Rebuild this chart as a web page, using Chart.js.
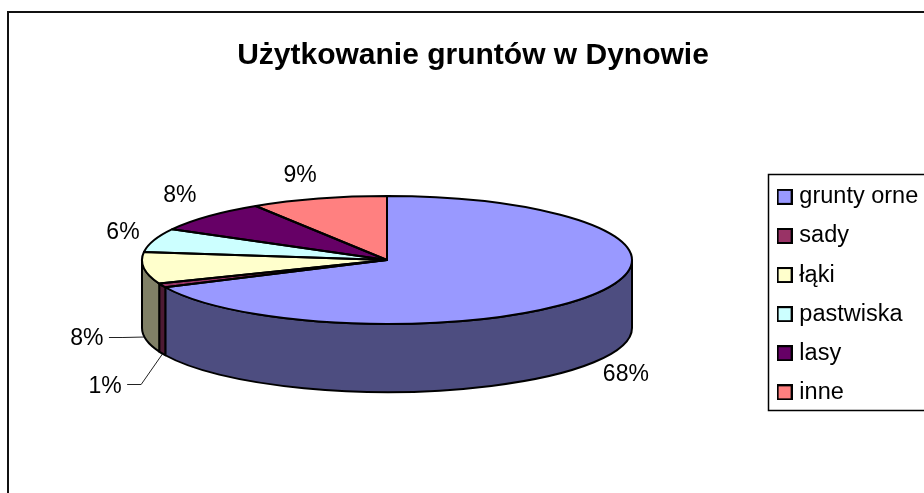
<!DOCTYPE html>
<html lang="pl">
<head>
<meta charset="utf-8">
<title>Użytkowanie gruntów w Dynowie</title>
<style>html,body{margin:0;padding:0;background:#fff}canvas{display:block}</style>
<script src="https://cdn.jsdelivr.net/npm/chart.js@4"></script>
</head>
<body>
<canvas id="c" width="924" height="493"></canvas>
<script>
const chartTitle = 'Użytkowanie gruntów w Dynowie';
const categories = ['grunty orne', 'sady', 'łąki', 'pastwiska', 'lasy', 'inne'];
const shares = [68, 1, 8, 6, 8, 9];
const topColors = ['#9999FF', '#993366', '#FFFFCC', '#CCFFFF', '#660066', '#FF8080'];
const wallColors = ['#4D4D80', '#4D1A33', '#808066', '#668080', '#330033', '#804040'];

const FONT = '"Liberation Sans", Arial, sans-serif';
const PIE = {cx: 387, cy: 260, rx: 245, ry: 64, depth: 68};
const LABEL_OFFSET = [[32, 80], [-57, 101], [-57, 71], [-31, -8], [-28.5, -20.5], [-18.6, -22.6]];
const HAS_LEADER = [false, true, true, false, false, false];

function ellipsePath(ctx, yOff, a0, a1, ccw) {
  ctx.ellipse(PIE.cx, PIE.cy + yOff, PIE.rx, PIE.ry, 0, a0, a1, !!ccw);
}
function swatch(color) {
  const s = document.createElement('canvas');
  s.width = 16; s.height = 16;
  const g = s.getContext('2d');
  g.fillStyle = color; g.fillRect(1, 1, 14, 14);
  g.strokeStyle = '#000'; g.lineWidth = 2; g.strokeRect(1, 1, 14, 14);
  return s;
}
const pie3d = {
  id: 'pie3d',
  afterLayout(chart) {
    const t = chart.titleBlock;
    t.left = 0; t.right = 946; t.top = 38; t.bottom = 74;
    const l = chart.legend;
    const w = l.width, h = l.height;
    l.left = 766; l.right = 766 + w; l.top = 169.5; l.bottom = 169.5 + h;
  },
  beforeDraw(chart) {
    const ctx = chart.ctx;
    ctx.save();
    ctx.fillStyle = '#fff';
    ctx.fillRect(0, 0, chart.width, chart.height);
    ctx.strokeStyle = '#111'; ctx.lineWidth = 2;
    ctx.strokeRect(8, 12, 1000, 600);
    ctx.lineWidth = 1.5;
    ctx.strokeStyle = '#000';
    ctx.strokeRect(768.5, 174.5, 400, 236);
    ctx.restore();
  },
  beforeDatasetsDraw(chart) {
    const ctx = chart.ctx;
    const arcs = chart.getDatasetMeta(0).data;
    ctx.save();
    ctx.lineWidth = 2; ctx.strokeStyle = '#000'; ctx.lineJoin = 'round';
    arcs.forEach((arc, i) => {
      const a0 = Math.max(arc.startAngle, 0), a1 = Math.min(arc.endAngle, Math.PI);
      if (a1 <= a0) return;
      ctx.beginPath();
      ellipsePath(ctx, 0, a0, a1);
      ellipsePath(ctx, PIE.depth, a1, a0, true);
      ctx.closePath();
      ctx.fillStyle = wallColors[i];
      ctx.fill(); ctx.stroke();
    });
    ctx.restore();
  },
  beforeDatasetDraw(chart) {
    const ctx = chart.ctx;
    const arc = chart.getDatasetMeta(0).data[0];
    ctx.save();
    ctx.translate(PIE.cx, PIE.cy);
    ctx.scale(PIE.rx / arc.outerRadius, PIE.ry / arc.outerRadius);
    ctx.translate(-arc.x, -arc.y);
  },
  afterDatasetDraw(chart) { chart.ctx.restore(); },
  afterDatasetsDraw(chart) {
    const ctx = chart.ctx;
    const arcs = chart.getDatasetMeta(0).data;
    ctx.save();
    ctx.lineWidth = 2; ctx.strokeStyle = '#000'; ctx.lineJoin = 'round';
    arcs.forEach(arc => {
      ctx.beginPath();
      ctx.moveTo(PIE.cx, PIE.cy);
      ellipsePath(ctx, 0, arc.startAngle, arc.endAngle);
      ctx.closePath();
      ctx.stroke();
    });
    ctx.font = '23px ' + FONT;
    ctx.textAlign = 'center';
    ctx.textBaseline = 'middle';
    ctx.fillStyle = '#000';
    arcs.forEach((arc, i) => {
      const mid = (arc.startAngle + arc.endAngle) / 2;
      const ex = PIE.cx + PIE.rx * Math.cos(mid);
      const ey = PIE.cy + PIE.ry * Math.sin(mid);
      const lx = ex + LABEL_OFFSET[i][0];
      const ly = ey + LABEL_OFFSET[i][1];
      ctx.fillText(shares[i] + '%', lx, ly);
      if (HAS_LEADER[i]) {
        const yl = Math.round(ly) - 1.5;
        ctx.beginPath();
        ctx.lineWidth = 1;
        ctx.strokeStyle = '#222';
        ctx.moveTo(lx + 22, yl);
        ctx.lineTo(lx + 36, yl);
        ctx.lineTo(ex, ey + PIE.depth + 1);
        ctx.stroke();
      }
    });
    ctx.restore();
  }
};

new Chart(document.getElementById('c'), {
  type: 'pie',
  data: {
    labels: categories,
    datasets: [{data: shares, backgroundColor: topColors, borderWidth: 0}]
  },
  plugins: [pie3d],
  options: {
    responsive: false,
    animation: false,
    events: [],
    plugins: {
      tooltip: {enabled: false},
      title: {
        display: true,
        text: chartTitle,
        color: '#000',
        padding: 0,
        font: {family: FONT, size: 30, weight: 'bold'}
      },
      legend: {
        display: true,
        position: 'right',
        align: 'start',
        labels: {
          color: '#000',
          font: {family: FONT, size: 23.5},
          padding: 15.6,
          usePointStyle: true,
          pointStyleWidth: 6,
          boxHeight: 16,
          generateLabels(chart) {
            return categories.map((name, i) => ({
              text: name,
              fillStyle: topColors[i],
              strokeStyle: '#000',
              lineWidth: 2,
              pointStyle: swatch(topColors[i]),
              hidden: false,
              index: i
            }));
          }
        }
      }
    }
  }
});
</script>
</body>
</html>
